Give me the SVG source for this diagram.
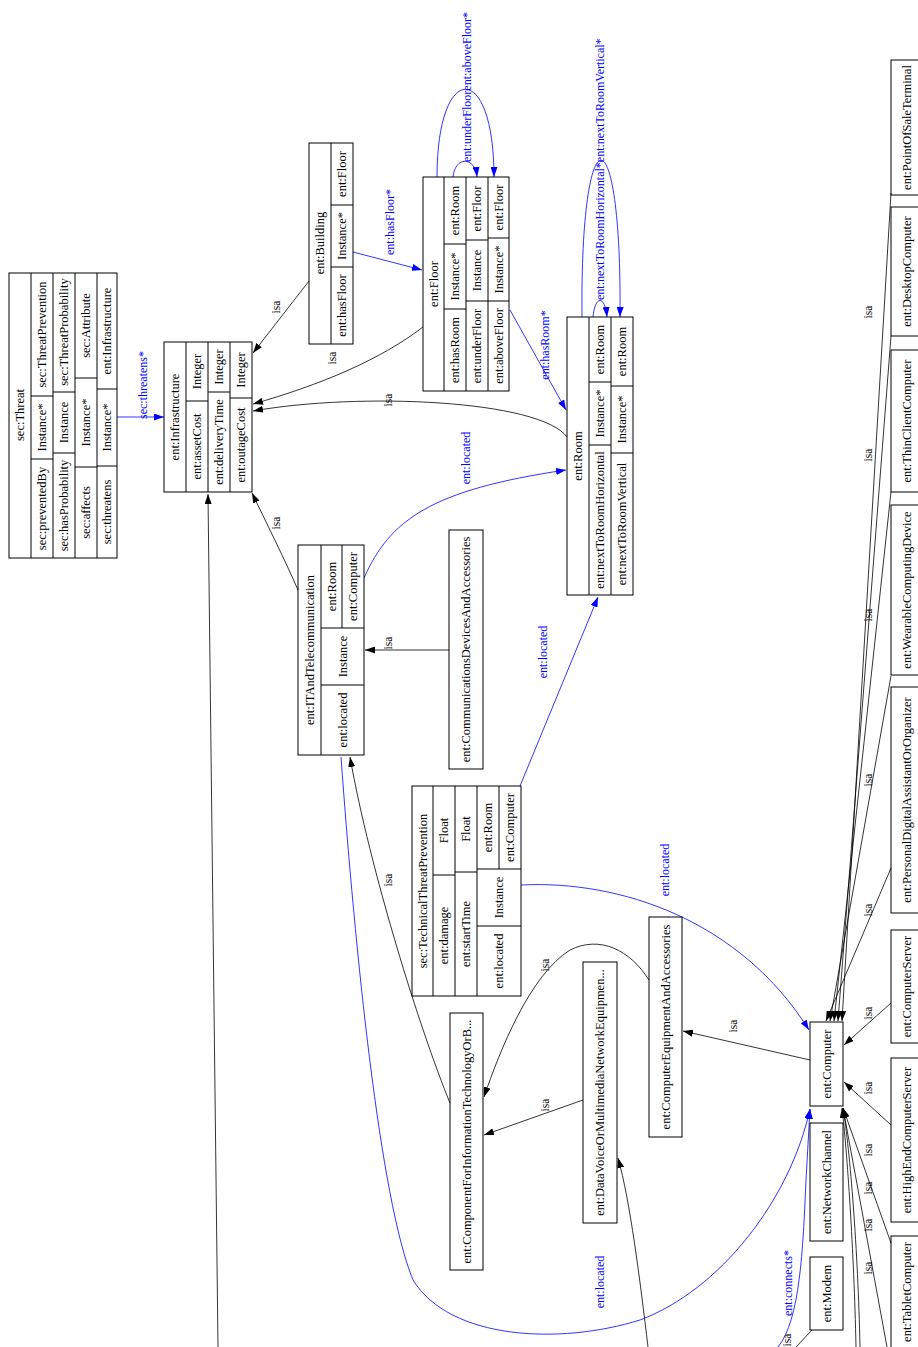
<svg xmlns="http://www.w3.org/2000/svg" width="918" height="1347" viewBox="0 0 918 1347">
<style>
.n rect,.n path{fill:none;stroke:#000;stroke-width:1}
.t{font-family:"Liberation Serif","Times New Roman",serif;font-size:12.5px;text-anchor:middle;dominant-baseline:central;fill:#000}
.l{font-family:"Liberation Serif","Times New Roman",serif;font-size:11.5px;text-anchor:middle;dominant-baseline:central;fill:#000}
.b{font-family:"Liberation Serif","Times New Roman",serif;font-size:12px;text-anchor:middle;dominant-baseline:central;fill:#0000ff}
.e{fill:none;stroke:#000;stroke-width:0.8}
.eb{fill:none;stroke:#0000ff;stroke-width:0.8}
</style>
<defs>
<marker id="ak" viewBox="0 0 10 7" refX="10" refY="3.5" markerWidth="10" markerHeight="7" orient="auto" markerUnits="userSpaceOnUse"><path d="M0,0L10,3.5L0,7z" fill="#000"/></marker>
<marker id="abl" viewBox="0 0 10 7" refX="10" refY="3.5" markerWidth="10" markerHeight="7" orient="auto" markerUnits="userSpaceOnUse"><path d="M0,0L10,3.5L0,7z" fill="#0000ff"/></marker>
</defs>
<rect width="918" height="1347" fill="#fff"/>

<g id="connectors">
<path class="e" d="M309,281L253,353" marker-end="url(#ak)"/>
<path class="e" d="M423,327C380,360 320,385 253,404" marker-end="url(#ak)"/>
<path class="e" d="M567,437C540,400 360,392 253,411" marker-end="url(#ak)"/>
<path class="e" d="M298,590C285,560 265,520 252,493" marker-end="url(#ak)"/>
<path class="e" d="M218,1347L208,494" marker-end="url(#ak)"/>
<path class="e" d="M449,650L365,650" marker-end="url(#ak)"/>
<path class="e" d="M450,1103C420,1030 370,870 350,757" marker-end="url(#ak)"/>
<path class="e" d="M649,980C630,950 600,935 570,950C530,975 500,1050 484,1097" marker-end="url(#ak)"/>
<path class="e" d="M583,1100L484,1135" marker-end="url(#ak)"/>
<path class="e" d="M648,1347C640,1280 630,1200 618,1158" marker-end="url(#ak)"/>
<path class="e" d="M810,1060L683,1031" marker-end="url(#ak)"/>
<path class="e" d="M891,193L842,1021" marker-end="url(#ak)"/>
<path class="e" d="M891,336L838,1021" marker-end="url(#ak)"/>
<path class="e" d="M891,492L834,1021" marker-end="url(#ak)"/>
<path class="e" d="M891,676L830,1021" marker-end="url(#ak)"/>
<path class="e" d="M891,868L826,1021" marker-end="url(#ak)"/>
<path class="e" d="M891,1003L844,1045" marker-end="url(#ak)"/>
<path class="e" d="M891,1125L844,1082" marker-end="url(#ak)"/>
<path class="e" d="M891,1243L843,1108" marker-end="url(#ak)"/>
<path class="e" d="M887,1347L843,1108" marker-end="url(#ak)"/>
<path class="e" d="M860,1347C858,1250 850,1150 843,1108" marker-end="url(#ak)"/>
<path class="e" d="M856,1347C854,1250 847,1150 842,1108" marker-end="url(#ak)"/>
<path class="e" d="M812,1330L796,1347"/>
<path class="eb" d="M117,417L164,417" marker-end="url(#abl)"/>
<path class="eb" d="M353,252L422,270" marker-end="url(#abl)"/>
<path class="eb" d="M453,177C455,156 475,156 477,177" marker-end="url(#abl)"/>
<path class="eb" d="M437,177C437,60 494,60 494,177" marker-end="url(#abl)"/>
<path class="eb" d="M593,317C595,295 605,295 607,317" marker-end="url(#abl)"/>
<path class="eb" d="M582,317C580,108 622,108 620,317" marker-end="url(#abl)"/>
<path class="eb" d="M510,310L566,410" marker-end="url(#abl)"/>
<path class="eb" d="M364,578C390,520 430,490 566,470" marker-end="url(#abl)"/>
<path class="eb" d="M520,786L598,597" marker-end="url(#abl)"/>
<path class="eb" d="M521,885C620,880 740,920 809,1030" marker-end="url(#abl)"/>
<path class="eb" d="M341,757C355,950 380,1200 413,1280C450,1340 560,1345 640,1320C720,1290 790,1200 810,1109" marker-end="url(#abl)"/>
<path class="eb" d="M778,1347C800,1320 803,1250 806,1180L810,1109" marker-end="url(#abl)"/>

<text class="l" x="276" y="307" transform="rotate(-90 276 307)">isa</text>
<text class="l" x="332" y="358" transform="rotate(-90 332 358)">isa</text>
<text class="l" x="388" y="400" transform="rotate(-90 388 400)">isa</text>
<text class="l" x="276" y="523" transform="rotate(-90 276 523)">isa</text>
<text class="l" x="388" y="643" transform="rotate(-90 388 643)">isa</text>
<text class="l" x="388" y="880" transform="rotate(-90 388 880)">isa</text>
<text class="l" x="545" y="965" transform="rotate(-90 545 965)">isa</text>
<text class="l" x="545" y="1105" transform="rotate(-90 545 1105)">isa</text>
<text class="l" x="733" y="1026" transform="rotate(-90 733 1026)">isa</text>
<text class="l" x="868" y="312" transform="rotate(-90 868 312)">isa</text>
<text class="l" x="868" y="455" transform="rotate(-90 868 455)">isa</text>
<text class="l" x="868" y="615" transform="rotate(-90 868 615)">isa</text>
<text class="l" x="868" y="780" transform="rotate(-90 868 780)">isa</text>
<text class="l" x="868" y="910" transform="rotate(-90 868 910)">isa</text>
<text class="l" x="868" y="1013" transform="rotate(-90 868 1013)">isa</text>
<text class="l" x="868" y="1088" transform="rotate(-90 868 1088)">isa</text>
<text class="l" x="868" y="1150" transform="rotate(-90 868 1150)">isa</text>
<text class="l" x="868" y="1188" transform="rotate(-90 868 1188)">isa</text>
<text class="l" x="868" y="1225" transform="rotate(-90 868 1225)">isa</text>
<text class="l" x="868" y="1268" transform="rotate(-90 868 1268)">isa</text>
<text class="l" x="787" y="1340" transform="rotate(-90 787 1340)">isa</text>

<text class="b" x="143" y="385" transform="rotate(-90 143 385)">sec:threatens*</text>
<text class="b" x="390" y="222" transform="rotate(-90 390 222)">ent:hasFloor*</text>
<text class="b" x="467" y="162" transform="rotate(-90 467 162)" style="text-anchor:start"><tspan>ent:underFloor</tspan><tspan>ent:aboveFloor*</tspan></text>
<text class="b" x="600" y="300" transform="rotate(-90 600 300)" style="text-anchor:start"><tspan>ent:nextToRoomHorizontal*</tspan><tspan>ent:nextToRoomVertical*</tspan></text>
<text class="b" x="545" y="345" transform="rotate(-90 545 345)">ent:hasRoom*</text>
<text class="b" x="466" y="458" transform="rotate(-90 466 458)">ent:located</text>
<text class="b" x="543" y="652" transform="rotate(-90 543 652)">ent:located</text>
<text class="b" x="665" y="870" transform="rotate(-90 665 870)">ent:located</text>
<text class="b" x="600" y="1282" transform="rotate(-90 600 1282)">ent:located</text>
<text class="b" x="788" y="1283" transform="rotate(-90 788 1283)">ent:connects*</text>
</g>

<g id="sec_Threat" class="n">
<rect x="9" y="273" width="108" height="285"/>
<path d="M31,273V558M53,273V558M75,273V558M97,273V558M31,396H53M31,459H53M53,392H75M53,453H75M75,378H97M75,467H97M97,389H117M97,466H117"/>
<text class="t" x="20" y="415" transform="rotate(-90 20 415)">sec:Threat</text>
<text class="t" x="42" y="334.5" transform="rotate(-90 42 334.5)">sec:ThreatPrevention</text>
<text class="t" x="42" y="427.5" transform="rotate(-90 42 427.5)">Instance*</text>
<text class="t" x="42" y="508.5" transform="rotate(-90 42 508.5)">sec:preventedBy</text>
<text class="t" x="64" y="332" transform="rotate(-90 64 332)">sec:ThreatProbability</text>
<text class="t" x="64" y="422.5" transform="rotate(-90 64 422.5)">Instance</text>
<text class="t" x="64" y="505.5" transform="rotate(-90 64 505.5)">sec:hasProbability</text>
<text class="t" x="86" y="325.5" transform="rotate(-90 86 325.5)">sec:Attribute</text>
<text class="t" x="86" y="422.5" transform="rotate(-90 86 422.5)">Instance*</text>
<text class="t" x="86" y="512.5" transform="rotate(-90 86 512.5)">sec:affects</text>
<text class="t" x="107" y="331" transform="rotate(-90 107 331)">ent:Infrastructure</text>
<text class="t" x="107" y="427.5" transform="rotate(-90 107 427.5)">Instance*</text>
<text class="t" x="107" y="512" transform="rotate(-90 107 512)">sec:threatens</text>
</g>

<g id="ent_Infrastructure" class="n">
<rect x="164" y="342" width="88" height="150"/>
<path d="M186,342V492M208,342V492M230,342V492M186,401H208M208,392H230M230,398H252"/>
<text class="t" x="175" y="417" transform="rotate(-90 175 417)">ent:Infrastructure</text>
<text class="t" x="197" y="371.5" transform="rotate(-90 197 371.5)">Integer</text>
<text class="t" x="197" y="446.5" transform="rotate(-90 197 446.5)">ent:assetCost</text>
<text class="t" x="219" y="367" transform="rotate(-90 219 367)">Integer</text>
<text class="t" x="219" y="442" transform="rotate(-90 219 442)">ent:deliveryTime</text>
<text class="t" x="241" y="370" transform="rotate(-90 241 370)">Integer</text>
<text class="t" x="241" y="445" transform="rotate(-90 241 445)">ent:outageCost</text>
</g>

<g id="ent_Building" class="n">
<rect x="309" y="143" width="44" height="201"/>
<path d="M331,143V344M331,205H353M331,267H353"/>
<text class="t" x="320" y="243" transform="rotate(-90 320 243)">ent:Building</text>
<text class="t" x="342" y="174" transform="rotate(-90 342 174)">ent:Floor</text>
<text class="t" x="342" y="236" transform="rotate(-90 342 236)">Instance*</text>
<text class="t" x="342" y="305.5" transform="rotate(-90 342 305.5)">ent:hasFloor</text>
</g>

<g id="ent_Floor" class="n">
<rect x="423" y="177" width="86" height="214"/>
<path d="M444,177V391M466,177V391M488,177V391M444,244H466M444,309H466M466,240H488M466,301H488M488,238H509M488,301H509"/>
<text class="t" x="433.5" y="284" transform="rotate(-90 433.5 284)">ent:Floor</text>
<text class="t" x="455" y="210.5" transform="rotate(-90 455 210.5)">ent:Room</text>
<text class="t" x="455" y="276.5" transform="rotate(-90 455 276.5)">Instance*</text>
<text class="t" x="455" y="350" transform="rotate(-90 455 350)">ent:hasRoom</text>
<text class="t" x="477" y="208.5" transform="rotate(-90 477 208.5)">ent:Floor</text>
<text class="t" x="477" y="270.5" transform="rotate(-90 477 270.5)">Instance</text>
<text class="t" x="477" y="346" transform="rotate(-90 477 346)">ent:underFloor</text>
<text class="t" x="498.5" y="207.5" transform="rotate(-90 498.5 207.5)">ent:Floor</text>
<text class="t" x="498.5" y="269.5" transform="rotate(-90 498.5 269.5)">Instance*</text>
<text class="t" x="498.5" y="346" transform="rotate(-90 498.5 346)">ent:aboveFloor</text>
</g>

<g id="ent_Room" class="n">
<rect x="567" y="317" width="66" height="278"/>
<path d="M589,317V595M611,317V595M589,382H611M589,445H611M611,386H633M611,453H633"/>
<text class="t" x="578" y="456" transform="rotate(-90 578 456)">ent:Room</text>
<text class="t" x="600" y="349.5" transform="rotate(-90 600 349.5)">ent:Room</text>
<text class="t" x="600" y="413.5" transform="rotate(-90 600 413.5)">Instance*</text>
<text class="t" x="600" y="520" transform="rotate(-90 600 520)">ent:nextToRoomHorizontal</text>
<text class="t" x="622" y="351.5" transform="rotate(-90 622 351.5)">ent:Room</text>
<text class="t" x="622" y="419.5" transform="rotate(-90 622 419.5)">Instance*</text>
<text class="t" x="622" y="524" transform="rotate(-90 622 524)">ent:nextToRoomVertical</text>
</g>

<g id="ent_ITAndTelecommunication" class="n">
<rect x="298" y="545" width="66" height="210"/>
<path d="M321,545V755M321,628H364M321,685H364M342,545V628"/>
<text class="t" x="309.5" y="650" transform="rotate(-90 309.5 650)">ent:ITAndTelecommunication</text>
<text class="t" x="331.5" y="586.5" transform="rotate(-90 331.5 586.5)">ent:Room</text>
<text class="t" x="353" y="586.5" transform="rotate(-90 353 586.5)">ent:Computer</text>
<text class="t" x="342.5" y="656.5" transform="rotate(-90 342.5 656.5)">Instance</text>
<text class="t" x="342.5" y="720" transform="rotate(-90 342.5 720)">ent:located</text>
</g>

<g id="ent_CommunicationsDevicesAndAccessories" class="n">
<rect x="449" y="530" width="34" height="239"/>
<text class="t" x="466" y="649.5" transform="rotate(-90 466 649.5)">ent:CommunicationsDevicesAndAccessories</text>
</g>

<g id="sec_TechnicalThreatPrevention" class="n">
<rect x="412" y="786" width="109" height="210"/>
<path d="M433,786V996M455,786V996M477,786V996M433,875H455M455,872H477M477,869H521M477,926H521M499,786V869"/>
<text class="t" x="422.5" y="891" transform="rotate(-90 422.5 891)">sec:TechnicalThreatPrevention</text>
<text class="t" x="444" y="830.5" transform="rotate(-90 444 830.5)">Float</text>
<text class="t" x="444" y="935.5" transform="rotate(-90 444 935.5)">ent:damage</text>
<text class="t" x="466" y="829" transform="rotate(-90 466 829)">Float</text>
<text class="t" x="466" y="934" transform="rotate(-90 466 934)">ent:startTime</text>
<text class="t" x="488" y="827.5" transform="rotate(-90 488 827.5)">ent:Room</text>
<text class="t" x="510" y="827.5" transform="rotate(-90 510 827.5)">ent:Computer</text>
<text class="t" x="499" y="897.5" transform="rotate(-90 499 897.5)">Instance</text>
<text class="t" x="499" y="961" transform="rotate(-90 499 961)">ent:located</text>
</g>

<g id="ent_ComputerEquipmentAndAccessories" class="n">
<rect x="649" y="917" width="33" height="220"/>
<text class="t" x="665.5" y="1027" transform="rotate(-90 665.5 1027)">ent:ComputerEquipmentAndAccessories</text>
</g>

<g id="ent_DataVoice" class="n">
<rect x="583" y="962" width="34" height="261"/>
<text class="t" x="600" y="1092.5" transform="rotate(-90 600 1092.5)">ent:DataVoiceOrMultimediaNetworkEquipmen...</text>
</g>

<g id="ent_ComponentForIT" class="n">
<rect x="450" y="1013" width="33" height="257"/>
<text class="t" x="466.5" y="1141.5" transform="rotate(-90 466.5 1141.5)">ent:ComponentForInformationTechnologyOrB...</text>
</g>

<g id="ent_Computer" class="n">
<rect x="810" y="1022" width="33" height="84"/>
<text class="t" x="826.5" y="1064" transform="rotate(-90 826.5 1064)">ent:Computer</text>
</g>

<g id="ent_NetworkChannel" class="n">
<rect x="810" y="1123" width="33" height="118"/>
<text class="t" x="826.5" y="1182" transform="rotate(-90 826.5 1182)">ent:NetworkChannel</text>
</g>

<g id="ent_Modem" class="n">
<rect x="810" y="1257" width="33" height="73"/>
<text class="t" x="826.5" y="1293.5" transform="rotate(-90 826.5 1293.5)">ent:Modem</text>
</g>

<g id="ent_PointOfSaleTerminal" class="n">
<rect x="891" y="60" width="34" height="135"/>
<text class="t" x="907" y="127.5" transform="rotate(-90 907 127.5)">ent:PointOfSaleTerminal</text>
</g>
<g id="ent_DesktopComputer" class="n">
<rect x="891" y="207" width="34" height="129"/>
<text class="t" x="907" y="271.5" transform="rotate(-90 907 271.5)">ent:DesktopComputer</text>
</g>
<g id="ent_ThinClientComputer" class="n">
<rect x="891" y="350" width="34" height="142"/>
<text class="t" x="907" y="421" transform="rotate(-90 907 421)">ent:ThinClientComputer</text>
</g>
<g id="ent_WearableComputingDevice" class="n">
<rect x="891" y="505" width="34" height="170"/>
<text class="t" x="907" y="590" transform="rotate(-90 907 590)">ent:WearableComputingDevice</text>
</g>
<g id="ent_PersonalDigitalAssistantOrOrganizer" class="n">
<rect x="891" y="687" width="34" height="226"/>
<text class="t" x="907" y="800" transform="rotate(-90 907 800)">ent:PersonalDigitalAssistantOrOrganizer</text>
</g>
<g id="ent_ComputerServer" class="n">
<rect x="891" y="930" width="34" height="113"/>
<text class="t" x="907" y="986.5" transform="rotate(-90 907 986.5)">ent:ComputerServer</text>
</g>
<g id="ent_HighEndComputerServer" class="n">
<rect x="891" y="1058" width="34" height="164"/>
<text class="t" x="907" y="1140" transform="rotate(-90 907 1140)">ent:HighEndComputerServer</text>
</g>
<g id="ent_TabletComputer" class="n">
<rect x="891" y="1236" width="34" height="130"/>
<text class="t" x="907" y="1292" transform="rotate(-90 907 1292)">ent:TabletComputer</text>
</g>
</svg>
